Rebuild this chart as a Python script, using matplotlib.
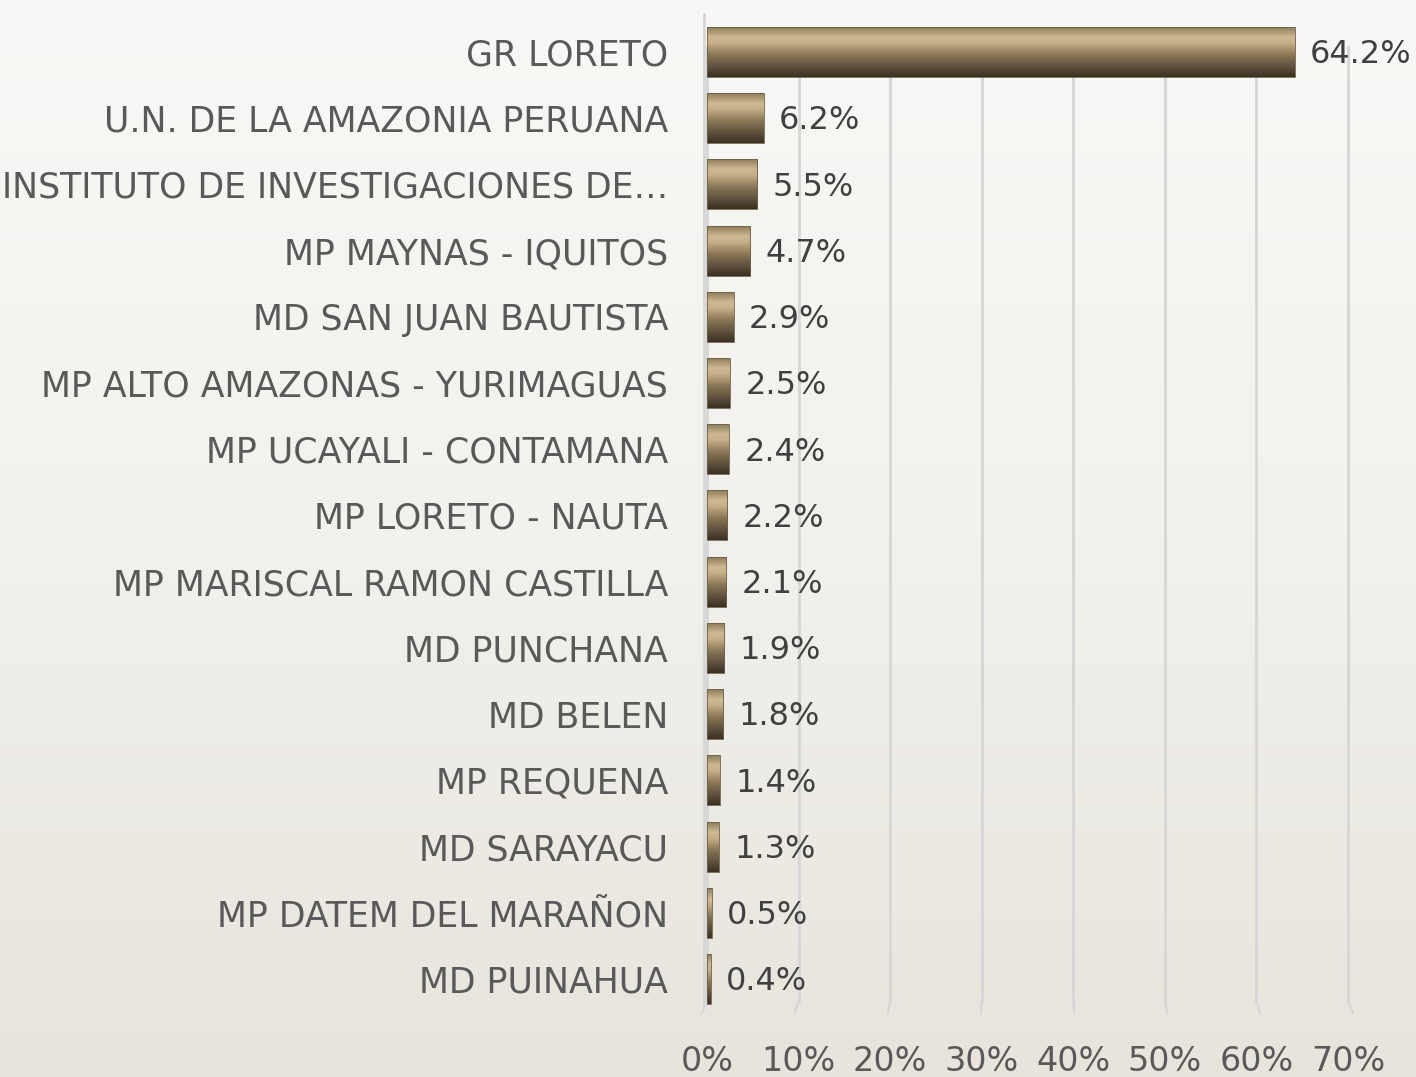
import numpy as np
import matplotlib
matplotlib.use("Agg")
import matplotlib.pyplot as plt
from matplotlib.colors import LinearSegmentedColormap

entidades = ["GR LORETO", "U.N. DE LA AMAZONIA PERUANA", "INSTITUTO DE INVESTIGACIONES DE\u2026",
             "MP MAYNAS - IQUITOS", "MD SAN JUAN BAUTISTA", "MP ALTO AMAZONAS - YURIMAGUAS",
             "MP UCAYALI - CONTAMANA", "MP LORETO - NAUTA", "MP MARISCAL RAMON CASTILLA",
             "MD PUNCHANA", "MD BELEN", "MP REQUENA", "MD SARAYACU",
             "MP DATEM DEL MARA\u00d1ON", "MD PUINAHUA"]
porcentajes = [64.2, 6.2, 5.5, 4.7, 2.9, 2.5, 2.4, 2.2, 2.1, 1.9, 1.8, 1.4, 1.3, 0.5, 0.4]
ticks = [0, 10, 20, 30, 40, 50, 60, 70]

plt.rcParams['font.family'] = ['DejaVu Sans']

fig = plt.figure(figsize=(14.16, 10.77), dpi=100)

# fondo degradado
bg = fig.add_axes([0, 0, 1, 1], zorder=-10)
grad = np.linspace(0, 1, 256).reshape(-1, 1)
bg_cmap = LinearSegmentedColormap.from_list("bg", ["#f8f8f6", "#f2f1ed", "#e8e4dc"])
bg.imshow(grad, aspect='auto', cmap=bg_cmap, extent=[0, 1, 0, 1], origin='upper')
bg.axis('off')

ax = fig.add_axes([0.4993, 0.0603, 0.4527, 0.9222])
ax.patch.set_alpha(0)

y = np.arange(len(entidades))
bars = ax.barh(y, porcentajes, height=0.755, color='none', edgecolor='#6d5f48',
               linewidth=0.6, zorder=3)

cyl = LinearSegmentedColormap.from_list("cyl", [
    (0.0, "#8f7d5d"), (0.2, "#cdb891"), (0.32, "#c6b089"),
    (0.55, "#8c7858"), (0.8, "#5e503c"), (1.0, "#3a3124")])
vgrad = np.linspace(0, 1, 200).reshape(-1, 1)
for b in bars:
    x0, yb, w, h = b.get_x(), b.get_y(), b.get_width(), b.get_height()
    im = ax.imshow(vgrad, aspect='auto', cmap=cyl, origin='upper',
                   extent=[x0, x0 + w, yb + h, yb], zorder=2, interpolation='bilinear')
    im.set_clip_path(b)

for yi, v in zip(y, porcentajes):
    ax.annotate(f"{v:.1f}%", (v, yi), xytext=(11, -2), textcoords='offset points',
                va='center', ha='left', fontsize=23, color='#404040')

ax.set_xlim(0, 70)
ax.set_ylim(len(entidades) - 0.5, -0.5)

# rejilla con efecto 3D
for t in ticks:
    dx = (t - 35) * 0.016
    ax.plot([t, t], [-0.07, 14.33], color='#d6d6d6', lw=2, zorder=1, clip_on=False)
    ax.plot([t, t + dx], [14.33, 14.52], color='#d6d6d6', lw=1.5, zorder=1, clip_on=False)
ax.plot([-0.3, -0.3], [-0.58, 14.4], color='#d6d6d6', lw=2, zorder=1, clip_on=False)

ax.set_xticks(ticks)
ax.set_xticklabels([f"{t}%" for t in ticks])
ax.set_yticks(y)
ax.set_yticklabels(entidades)
ax.tick_params(axis='x', length=0, pad=24, labelsize=24, labelcolor='#595959')
ax.tick_params(axis='y', length=0, pad=28, labelsize=25, labelcolor='#595959')
for lbl in ax.get_yticklabels():
    lbl.set_y(0)
for s in ax.spines.values():
    s.set_visible(False)

fig.savefig("out.png", dpi=100)
